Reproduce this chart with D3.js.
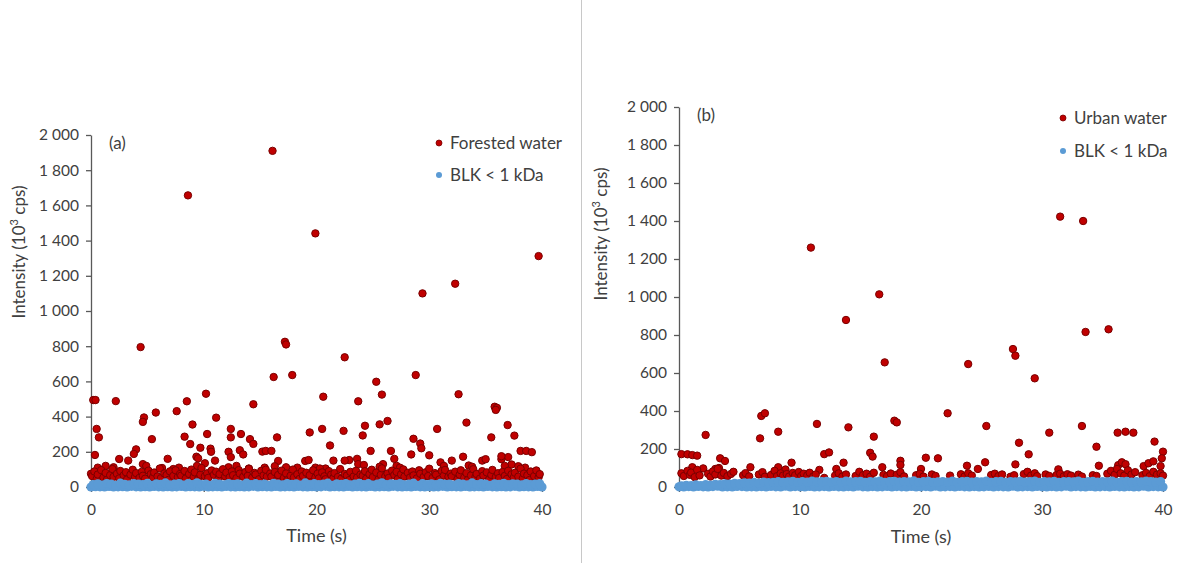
<!DOCTYPE html>
<html><head><meta charset="utf-8">
<script src="https://cdn.jsdelivr.net/npm/d3@7"></script>
<style>body{margin:0;background:#fff}svg{display:block;font-family:Lato,"Open Sans",sans-serif}</style>
</head><body><svg id="c" width="1184" height="563"></svg>
<script>
// ---------- data ----------
const xTicks = [0, 10, 20, 30, 40];
const yTicks = [0, 200, 400, 600, 800, 1000, 1200, 1400, 1600, 1800, 2000];
const seriesNamesA = ["Forested water", "BLK < 1 kDa"];
const seriesNamesB = ["Urban water", "BLK < 1 kDa"];
const panelLabels = ["(a)", "(b)"];

// Forested water: isolated / elevated events [time s, intensity 10^3 cps]
const forestPeaks = [[16.1,1910],[8.6,1657],[19.9,1441],[39.7,1312],[32.3,1155],[29.4,1100],[17.2,825],[17.3,810],[4.4,795],[22.5,737],[17.85,636],[16.2,625],[28.8,636],[25.3,598],[10.2,530],[25.8,525],[32.6,527],[20.6,513],[0.2,494],[0.4,494],[2.2,488],[8.5,487],[23.7,487],[14.4,470],[35.8,456],[36.0,450],[35.9,438],[7.6,431],[5.75,423],[11.1,394],[4.7,395],[4.6,370],[26.3,375],[33.3,366],[25.6,356],[9.0,355],[36.95,352],[24.3,348],[0.5,330],[12.4,330],[20.5,330],[30.7,330],[22.4,319],[19.4,310],[10.3,301],[13.3,301],[24.1,293],[37.55,292],[0.7,282],[8.3,286],[12.4,282],[16.5,282],[35.5,282],[28.6,274],[5.4,272],[14.1,272],[14.4,245],[8.8,244],[21.2,236],[29.2,247],[9.7,223],[10.6,218],[4.0,214],[29.3,220],[13.2,209],[24.8,205],[26.6,205],[38.1,205],[38.6,205],[39.1,198],[15.2,201],[15.5,205],[16.0,205],[10.65,200],[12.2,200],[3.8,188],[0.35,182],[13.5,185],[9.35,172],[37.0,170],[6.8,160],[12.4,170],[2.5,159],[3.3,150],[21.5,150],[22.9,153],[11.0,150],[9.5,163],[16.6,148],[19.0,148],[19.3,153],[17.3,112],[18.3,110],[28.4,185],[30.0,180],[22.5,150],[23.6,160],[26.9,160],[33.0,172],[34.7,150],[35.0,158],[36.4,158],[36.4,175],[32.0,150],[31.0,140],[31.3,120],[25.9,130],[25.6,115],[27.1,120],[27.4,110],[23.7,130],[24.2,125],[33.5,122],[33.8,115],[37.3,128],[37.9,118],[38.5,110],[19.9,110],[20.8,105],[36.7,120],[1.3,120],[2.0,112],[4.6,130],[4.9,120],[6.3,108],[7.3,102],[7.8,110],[9.4,120],[10.1,135],[12.2,112],[12.9,120],[14.0,105],[15.4,110],[16.3,118],[20.3,105],[0.6,110],[0.0,75]];

// Forested water: dense low-level band
const forestBase = [[0.1,62],[0.3,88],[0.5,45],[0.6,71],[0.9,96],[1.1,54],[1.3,80],[1.4,40],[1.7,67],[1.9,102],[2.0,58],[2.3,75],[2.5,49],[2.6,91],[2.9,66],[3.1,84],[3.2,43],[3.5,70],[3.7,98],[3.9,57],
[4.0,79],[4.3,52],[4.5,86],[4.6,64],[4.8,47],[5.1,93],[5.3,73],[5.5,55],[5.6,82],[5.9,60],[6.1,105],[6.2,50],[6.5,77],[6.7,68],[6.9,41],[7.0,89],[7.3,63],[7.5,95],[7.7,56],[7.9,74],
[8.0,65],[8.3,91],[8.4,48],[8.7,74],[8.9,99],[9.1,57],[9.2,83],[9.5,44],[9.7,70],[9.8,108],[10.1,61],[10.3,78],[10.4,52],[10.7,94],[10.9,69],[11.1,87],[11.3,46],[11.4,73],[11.7,101],[11.9,60],
[12.0,82],[12.3,55],[12.5,89],[12.6,67],[12.9,50],[13.1,96],[13.2,76],[13.5,58],[13.7,85],[13.9,63],[14.0,103],[14.3,53],[14.5,80],[14.6,71],[14.9,44],[15.1,92],[15.3,66],[15.5,98],[15.6,59],[15.9,77],
[16.0,59],[16.3,85],[16.5,42],[16.6,68],[16.9,93],[17.1,51],[17.3,77],[17.4,38],[17.7,64],[17.9,99],[18.0,55],[18.3,72],[18.5,46],[18.7,88],[18.8,63],[19.1,81],[19.3,40],[19.4,67],[19.7,95],[19.9,54],
[20.1,76],[20.2,49],[20.5,83],[20.7,61],[20.8,44],[21.1,90],[21.3,70],[21.5,52],[21.6,79],[21.9,57],[22.1,102],[22.2,47],[22.5,74],[22.7,65],[22.9,39],[23.0,86],[23.3,60],[23.5,92],[23.6,53],[23.9,71],
[24.1,64],[24.3,90],[24.4,47],[24.7,73],[24.9,98],[25.0,56],[25.3,82],[25.5,43],[25.7,69],[25.8,106],[26.1,60],[26.3,77],[26.4,51],[26.7,93],[26.9,68],[27.1,86],[27.2,45],[27.5,72],[27.7,100],[27.8,59],
[28.1,81],[28.3,54],[28.5,88],[28.6,66],[28.9,49],[29.1,95],[29.2,75],[29.5,57],[29.7,84],[29.9,62],[30.0,104],[30.3,52],[30.5,79],[30.6,70],[30.9,43],[31.1,91],[31.3,65],[31.4,97],[31.7,58],[31.9,76],
[32.0,61],[32.3,87],[32.5,44],[32.7,70],[32.8,95],[33.1,53],[33.3,79],[33.4,39],[33.7,66],[33.9,101],[34.1,57],[34.2,74],[34.5,48],[34.7,90],[34.8,65],[35.1,83],[35.3,42],[35.5,69],[35.6,97],[35.9,56],
[36.1,78],[36.2,51],[36.5,85],[36.7,63],[36.9,46],[37.0,92],[37.3,72],[37.5,54],[37.6,81],[37.9,59],[38.1,104],[38.3,49],[38.4,76],[38.7,67],[38.9,40],[39.0,88],[39.3,62],[39.5,94],[39.7,55],[39.8,73]];

// Urban water: isolated / elevated events
const urbanPeaks = [[10.9,1260],[16.55,1014],[13.8,879],[31.5,1423],[33.4,1400],[33.6,816],[35.5,830],[17.0,656],[23.9,647],[27.6,726],[27.8,691],[29.4,572],[6.8,374],[7.1,388],[6.7,256],[8.2,291],[2.2,274],[11.4,332],[14.0,314],[16.1,265],[17.8,349],[18.0,340],[22.2,388],[25.4,321],[30.6,286],[33.3,321],[36.25,286],[36.9,291],[37.55,286],[39.3,239],[28.1,233],[28.9,172],[34.5,212],[20.4,154],[21.4,151],[25.3,130],[40.0,186],[39.9,151],[39.8,110],[9.3,128],[0.2,173],[0.7,172],[1.1,168],[1.5,165],[3.4,151],[3.8,137],[12.0,173],[12.4,182],[13.6,128],[15.8,180],[16.0,160],[5.9,104],[1.1,104],[8.2,104],[16.8,104],[3.3,100],[3.0,95],[18.3,138],[18.3,116],[23.8,112],[24.7,95],[27.8,119],[34.7,112],[31.35,93],[38.4,110],[38.8,125],[39.2,135],[36.3,115],[36.6,130],[36.9,120],[20.0,95],[13.0,95],[11.6,90],[2.0,98],[8.8,92]];

// Urban water: low-level band
const urbanBase = [[0.2,72],[0.4,58],[0.7,85],[0.9,64],[1.0,76],[1.3,52],[1.5,90],[1.7,61],
[2.4,70],[2.6,55],[2.8,82],[3.0,66],[3.2,95],[3.5,60],[3.7,74],[4.0,57],[4.3,69],[4.5,80],
[5.3,62],[5.5,73],[5.8,56],[6.6,66],[6.9,78],[7.1,54],
[7.6,63],[7.9,85],[8.1,57],[8.4,72],[8.6,60],[8.9,68],[9.1,55],[9.4,74],[9.6,62],[9.9,79],[10.1,58],[10.3,70],[10.6,61],[10.8,75],[11.1,56],[11.3,66],
[12.0,48],[12.9,60],[13.2,72],[13.5,55],[13.8,66],
[14.6,58],[14.9,80],[15.2,62],[15.5,70],[15.8,54],[16.1,75],
[16.9,64],[17.2,57],[17.5,71],[18.0,65],[18.3,78],[18.6,56],
[19.6,62],[19.9,70],[20.2,55],[20.9,66],[21.2,58],[22.4,60],
[23.3,67],[23.6,55],[23.9,72],[24.2,60],
[25.8,63],[26.1,70],[26.4,57],[26.7,66],[27.4,54],[27.7,62],
[28.5,68],[28.8,80],[29.1,60],[29.4,72],[29.6,57],[30.3,66],[30.6,58],
[31.2,63],[31.5,70],[31.8,56],[32.1,67],[32.4,60],[33.0,65],[33.3,55],
[34.2,62],[34.5,58],
[35.4,70],[35.7,85],[36.0,64],[36.2,95],[36.5,72],[36.8,60],[37.1,88],[37.4,66],[37.7,78],
[38.3,62],[38.6,74],[38.9,57],[39.2,80],[39.5,65],[39.8,72],[40.0,60]];

// Blank (BLK < 1 kDa): two interleaved time grids shared by both runs
const blankTimes = [0,0.4,0.8,1.2,1.6,2,2.4,2.8,3.2,3.6,4,4.4,4.8,5.2,5.6,6,6.4,6.8,7.2,7.6,8,8.4,8.8,9.2,9.6,10,10.4,10.8,11.2,11.6,12,12.4,12.8,13.2,13.6,14,14.4,14.8,15.2,15.6,16,16.4,16.8,17.2,17.6,18,18.4,18.8,19.2,19.6,20,20.4,20.8,21.2,21.6,22,22.4,22.8,23.2,23.6,24,24.4,24.8,25.2,25.6,26,26.4,26.8,27.2,27.6,28,28.4,28.8,29.2,29.6,30,30.4,30.8,31.2,31.6,32,32.4,32.8,33.2,33.6,34,34.4,34.8,35.2,35.6,36,36.4,36.8,37.2,37.6,38,38.4,38.8,39.2,39.6,40];
const blankTimes2 = [0.2,0.6,1,1.4,1.8,2.2,2.6,3,3.4,3.8,4.2,4.6,5,5.4,5.8,6.2,6.6,7,7.4,7.8,8.2,8.6,9,9.4,9.8,10.2,10.6,11,11.4,11.8,12.2,12.6,13,13.4,13.8,14.2,14.6,15,15.4,15.8,16.2,16.6,17,17.4,17.8,18.2,18.6,19,19.4,19.8,20.2,20.6,21,21.4,21.8,22.2,22.6,23,23.4,23.8,24.2,24.6,25,25.4,25.8,26.2,26.6,27,27.4,27.8,28.2,28.6,29,29.4,29.8,30.2,30.6,31,31.4,31.8,32.2,32.6,33,33.4,33.8,34.2,34.6,35,35.4,35.8,36.2,36.6,37,37.4,37.8,38.2,38.6,39,39.4,39.8];
const blankA = [0,2,1,0,3,0,1,2,0,4,1,0,2,0,3,1,0,2,0,1,3,0,2,1,0,4,0,1,2,0,3,1,0,2,0,1,4,0,2,1,0,3,0,1,2,0,3,1,0,2,0,1,4,0,2,1,0,3,0,2,1,0,3,0,1,2,0,4,1,0,2,0,3,1,0,2,0,1,4,0,2,1,0,3,0,1,2,0,3,1,0,2,0,1,4,0,2,1,0,3,0];
const blankA2 = [14,18,11,20,16,9,22,15,12,19,17,13,21,10,18,15,23,12,16,20,11,19,14,24,13,17,10,21,16,12,20,15,18,11,22,14,19,13,17,9,21,16,12,20,15,18,11,23,14,19,13,17,22,10,18,15,20,12,16,21,14,19,11,17,24,13,18,15,20,12,16,22,10,19,14,18,13,21,15,17,11,20,16,12,23,14,19,17,10,18,15,21,13,18,16,12,20,14,17,19];
const blankB = [1,0,2,0,3,1,0,2,4,0,1,0,3,2,0,1,0,2,0,3,1,0,4,0,2,1,0,3,0,1,2,0,3,1,0,2,0,4,1,0,2,0,1,3,0,2,1,0,3,0,1,2,0,4,0,1,2,0,3,1,0,2,0,1,3,0,2,1,0,4,0,1,2,0,3,1,0,2,0,1,4,0,2,1,0,3,0,1,2,0,3,1,0,2,0,1,4,0,2,1,0];
const blankB2 = [6,9,7,11,8,12,10,14,13,17,15,19,18,22,20,24,21,26,23,25,28,24,27,30,25,29,26,31,27,28,30,26,29,25,31,27,28,30,24,29,27,31,25,28,30,26,29,27,32,25,28,30,24,27,29,26,31,25,28,30,26,29,27,31,24,28,30,25,29,27,30,26,28,31,25,29,27,30,24,28,29,27,31,25,28,30,26,29,27,31,25,28,30,26,29,27,31,28,26,29];

// ---------- drawing ----------
const RED = "#C00000", RED_EDGE = "#7A0000", BLUE = "#5B9BD5";
const TEXT = "#404040", AXIS = "#595959";
const loc = d3.formatLocale({decimal: ".", thousands: "\u00a0", grouping: [3], currency: ["", ""]});
const fmt = loc.format(",d");

const svg = d3.select("#c");
svg.append("rect").attr("width", 1184).attr("height", 563).attr("fill", "#fff");
svg.append("line").attr("x1", 581.5).attr("x2", 581.5).attr("y1", 0).attr("y2", 563)
  .attr("stroke", "#c8c8c8").attr("stroke-width", 1);

function panel(cfg) {
  const x = d3.scaleLinear().domain([0, 40]).range(cfg.xr);
  const y = d3.scaleLinear().domain([0, 2000]).range(cfg.yr);
  const g = svg.append("g");

  const ya = g.append("g").attr("transform", `translate(${cfg.xr[0]},0)`)
    .call(d3.axisLeft(y).tickValues(yTicks).tickSize(5).tickSizeOuter(0).tickPadding(7).tickFormat(fmt));
  const xa = g.append("g").attr("transform", `translate(0,${cfg.yr[0]})`)
    .call(d3.axisBottom(x).tickValues(xTicks).tickSize(5).tickSizeOuter(0).tickPadding(12).tickFormat(d3.format("d")));
  [ya, xa].forEach(a => {
    a.selectAll("path,line").attr("stroke", AXIS).attr("stroke-width", 1.3);
    a.selectAll("text").attr("fill", TEXT).style("font-size", "15.5px").style("font-family", "Lato, 'Open Sans', sans-serif");
  });

  const all = cfg.peaks.concat(cfg.base);
  g.append("g").selectAll("circle").data(all).join("circle")
    .attr("cx", d => x(d[0])).attr("cy", d => y(d[1])).attr("r", 3.7)
    .attr("fill", RED).attr("stroke", RED_EDGE).attr("stroke-width", 1);

  const blanks = blankTimes.map((t, i) => [t, cfg.blank[i]])
    .concat(blankTimes2.map((t, i) => [t, cfg.blank2[i]]));
  g.append("g").selectAll("circle").data(blanks).join("circle")
    .attr("cx", d => x(d[0])).attr("cy", d => y(d[1])).attr("r", 4.6)
    .attr("fill", BLUE);

  // panel label
  g.append("text").attr("x", cfg.lab[0]).attr("y", cfg.lab[1]).attr("fill", TEXT)
    .style("font-size", "17px").text(cfg.label);

  // legend
  cfg.names.forEach((n, i) => {
    const ly = cfg.leg[1] + i * cfg.legStep;
    g.append("circle").attr("cx", cfg.leg[0]).attr("cy", ly).attr("r", 3)
      .attr("fill", i === 0 ? RED : BLUE).attr("stroke", i === 0 ? RED_EDGE : "none").attr("stroke-width", 0.8);
    g.append("text").attr("x", cfg.leg[0] + 11).attr("y", ly + 6).attr("fill", TEXT)
      .style("font-size", "17px").text(n);
  });

  // axis titles
  g.append("text").attr("x", (cfg.xr[0] + cfg.xr[1]) / 2).attr("y", cfg.xt).attr("text-anchor", "middle")
    .attr("fill", TEXT).style("font-size", "18px").text("Time (s)");
  const yt = g.append("text").attr("transform", `translate(${cfg.yt[0]},${cfg.yt[1]}) rotate(-90)`)
    .attr("text-anchor", "middle").attr("fill", TEXT).style("font-size", "17px");
  yt.append("tspan").text("Intensity (10");
  yt.append("tspan").attr("dy", -7).style("font-size", "11px").text("3");
  yt.append("tspan").attr("dy", 7).text(" cps)");
}

panel({xr: [91, 542], yr: [487, 135], peaks: forestPeaks, base: forestBase, blank: blankA, blank2: blankA2,
  label: panelLabels[0], lab: [109, 149], names: seriesNamesA, leg: [439, 143], legStep: 32,
  xt: 542, yt: [25, 252]});
panel({xr: [679, 1163], yr: [487, 107], peaks: urbanPeaks, base: urbanBase, blank: blankB, blank2: blankB2,
  label: panelLabels[1], lab: [697, 121], names: seriesNamesB, leg: [1063, 118], legStep: 33,
  xt: 543, yt: [607, 234]});
</script></body></html>
